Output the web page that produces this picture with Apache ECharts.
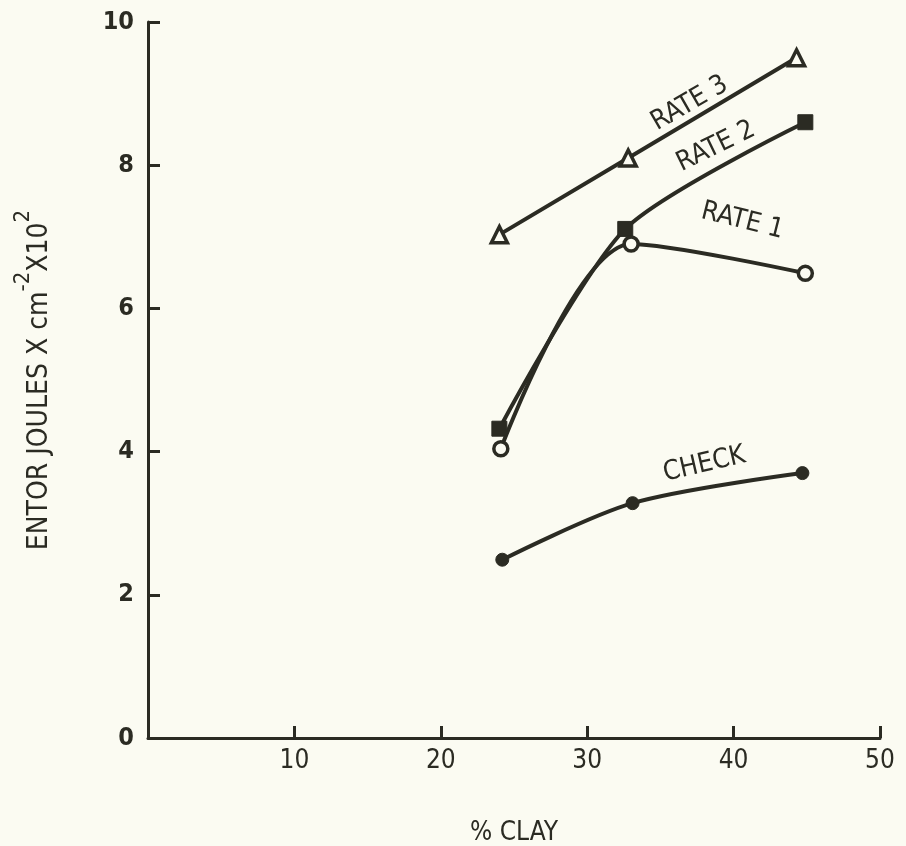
<!DOCTYPE html>
<html>
<head>
<meta charset="utf-8">
<script src="https://cdn.jsdelivr.net/npm/echarts@6/dist/echarts.min.js"></script>
<style>
html,body{margin:0;padding:0;background:#fbfbf2;}
#c{width:906px;height:846px;}
</style>
</head>
<body>
<div id="c"></div>
<script>
// Data (x = % clay, y = Entor joules x cm^-2 x10^2)
const rate3X = [24.0, 32.8, 44.3];
const rate3Y = [7.03, 8.10, 9.50];
const rate2X = [24.0, 32.6, 44.9];
const rate2Y = [4.32, 7.11, 8.60];
const rate1X = [24.1, 33.0, 44.9];
const rate1Y = [4.04, 6.90, 6.49];
const checkX = [24.2, 33.1, 44.7];
const checkY = [2.49, 3.28, 3.70];
const xTicks = [10, 20, 30, 40, 50];
const yTicks = [0, 2, 4, 6, 8, 10];
// Curve labels: text, x, y, rotation
const labelText = ['RATE 3', 'RATE 2', 'RATE 1', 'CHECK'];
const labelX = [37.0, 38.8, 40.6, 38.0];
const labelY = [8.86, 8.26, 7.22, 3.82];
const labelRot = [30, 26, -14, 13];

const INK = '#2b2b23';
const BG = '#fbfbf2';
const FONT = '"DejaVu Sans Condensed", "DejaVu Sans", sans-serif';

function pts(xs, ys){ return xs.map((x,i)=>[x, ys[i]]); }

const chart = echarts.init(document.getElementById('c'));
const lineBase = {
  type: 'line',
  lineStyle: {color: INK, width: 4},
  z: 3
};
chart.setOption({
  backgroundColor: BG,
  animation: false,
  grid: {left: 148, right: 26, top: 22, bottom: 108, containLabel: false, outerBoundsMode: 'none'},
  xAxis: {
    type: 'value', min: 0, max: 50, interval: 10,
    axisLine: {show: true, lineStyle: {color: INK, width: 3}},
    axisTick: {show: true, inside: true, length: 12, lineStyle: {color: INK, width: 3}},
    splitLine: {show: false},
    axisLabel: {
      color: INK, fontFamily: FONT, fontSize: 26, margin: 10,
      formatter: v => xTicks.indexOf(v) >= 0 ? String(v) : ''
    },
    name: '% CLAY', nameLocation: 'middle', nameGap: 82,
    nameTextStyle: {color: INK, fontFamily: FONT, fontSize: 26}
  },
  yAxis: {
    type: 'value', min: 0, max: 10, interval: 2,
    axisLine: {show: true, lineStyle: {color: INK, width: 3}},
    axisTick: {show: true, inside: true, length: 12, lineStyle: {color: INK, width: 3}},
    splitLine: {show: false},
    axisLabel: {
      color: INK, fontFamily: FONT, fontSize: 25, fontWeight: 'bold', margin: 14,
      formatter: v => yTicks.indexOf(v) >= 0 ? String(v) : ''
    },
    name: '{m|ENTOR JOULES X cm}{s|-2}{m|X10}{s|2}',
    nameLocation: 'middle', nameGap: 94, nameRotate: 90,
    nameTextStyle: {
      color: INK, fontFamily: FONT,
      rich: {
        m: {fontSize: 28, fontFamily: FONT, color: INK, lineHeight: 42, verticalAlign: 'bottom'},
        s: {fontSize: 22, fontFamily: FONT, color: INK, lineHeight: 42, verticalAlign: 'top'}
      }
    }
  },
  series: [
    Object.assign({}, lineBase, {
      name: 'RATE 3', data: pts(rate3X, rate3Y), smooth: false,
      symbol: 'triangle', symbolSize: 16,
      itemStyle: {color: BG, borderColor: INK, borderWidth: 3.5}
    }),
    Object.assign({}, lineBase, {
      name: 'RATE 2', data: pts(rate2X, rate2Y), smooth: 0.25,
      symbol: 'rect', symbolSize: 15,
      itemStyle: {color: INK, borderColor: INK, borderWidth: 1}
    }),
    Object.assign({}, lineBase, {
      name: 'RATE 1', data: pts(rate1X, rate1Y), smooth: 0.3,
      symbol: 'circle', symbolSize: 14,
      itemStyle: {color: BG, borderColor: INK, borderWidth: 3.5}
    }),
    Object.assign({}, lineBase, {
      name: 'CHECK', data: pts(checkX, checkY), smooth: 0.3,
      symbol: 'circle', symbolSize: 13,
      itemStyle: {color: INK, borderColor: INK, borderWidth: 1}
    }),
    {
      type: 'scatter', name: 'labels', z: 5, silent: true,
      symbolSize: 0, itemStyle: {opacity: 1},
      data: labelText.map((t,i)=>({
        value: [labelX[i], labelY[i]],
        label: {
          show: true, position: 'inside', formatter: t, rotate: labelRot[i],
          color: INK, fontFamily: FONT, fontSize: 27, opacity: 1
        }
      }))
    }
  ]
});
</script>
</body>
</html>
